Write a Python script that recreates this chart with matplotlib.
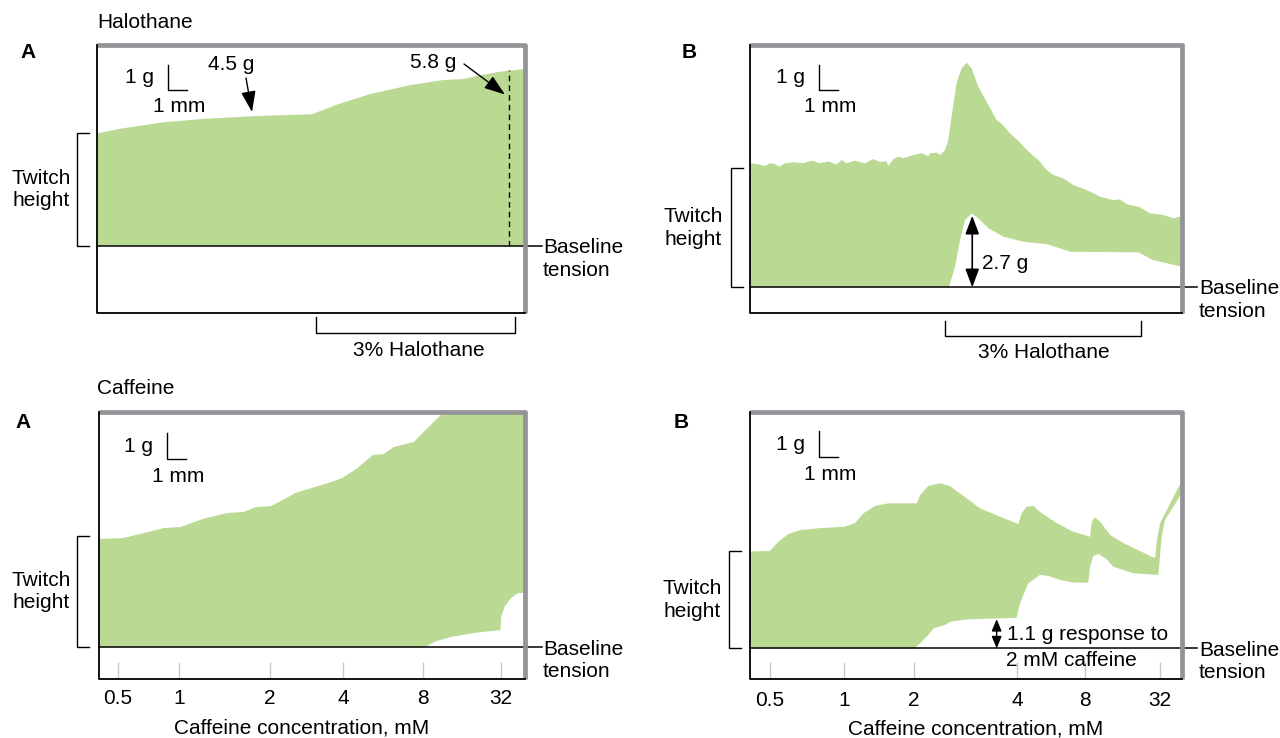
import matplotlib.pyplot as plt
import matplotlib.transforms as mtransforms
from matplotlib.lines import Line2D
from matplotlib.patches import FancyArrowPatch

plt.rcParams['font.family'] = ['Liberation Sans', 'DejaVu Sans']
plt.rcParams['font.size'] = 15

W, H = 1280, 738
GREEN = '#bada94'
GRAY = '#939398'
PX_MM = 18.5   # 1 mm of chart paper
PX_G = 26.5    # 1 g of tension

# ---- Halothane A: twitch top (g above baseline) vs chart distance (mm)
halo_a_x = [0, 1.39, 3.61, 5.83, 8.48, 11.61, 12.91, 14.69, 16.91, 18.69, 19.81, 20.48, 21.8, 23.18, 23.6]
halo_a_top = [4.24, 4.43, 4.66, 4.79, 4.89, 4.96, 5.31, 5.71, 6.06, 6.25, 6.29, 6.40, 6.57, 6.67, 6.7]
halo_a_mark_x = 22.24
halo_a_mark_g = 6.63

# ---- Halothane B (susceptible muscle)
halo_b_top_x = [0, 0.39, 0.84, 1.11, 1.38, 1.61, 1.92, 2.37, 2.91, 3.36, 3.81, 4.26, 4.71, 4.98, 5.25,
                5.70, 6.24, 6.69, 7.05, 7.42, 7.50, 7.77, 8.04, 8.31, 8.85, 9.31, 9.66, 9.76, 10.12,
                10.30, 10.57, 10.75, 10.93, 11.20, 11.47, 11.74, 12.01, 12.37, 12.91, 13.36, 13.60,
                14.08, 14.50, 14.98, 15.70, 16.06, 16.42, 16.96, 17.50, 18.23, 18.95, 19.66, 20.03,
                20.39, 21.11, 21.65, 22.37, 22.91, 23.18, 23.46]
halo_b_top = [4.68, 4.65, 4.58, 4.68, 4.65, 4.55, 4.68, 4.72, 4.68, 4.78, 4.68, 4.75, 4.63, 4.80, 4.68,
              4.78, 4.68, 4.84, 4.73, 4.75, 4.58, 4.83, 4.93, 4.87, 4.99, 5.06, 4.95, 5.06, 5.08,
              4.99, 5.18, 5.56, 6.48, 7.74, 8.26, 8.48, 8.26, 7.57, 6.88, 6.31, 6.20,
              5.81, 5.55, 5.19, 4.74, 4.43, 4.24, 4.11, 3.86, 3.67, 3.42, 3.29, 3.32,
              3.14, 3.02, 2.79, 2.73, 2.60, 2.66, 2.62]
halo_b_bot_x = [0, 10.78, 11.11, 11.38, 11.65, 12.01, 12.37, 12.91, 13.72, 14.80, 16.06, 17.37,
                21.03, 21.80, 23.35, 23.8]
halo_b_bot = [0, 0, 0.78, 1.78, 2.54, 2.79, 2.60, 2.23, 1.91, 1.72, 1.63, 1.34,
              1.32, 1.03, 0.78, 0.75]
halo_b_contracture = 2.7
halo_b_contracture_x = 12.04

# ---- Caffeine A
caf_a_top_x = [0, 1.32, 2.44, 3.54, 4.43, 5.76, 7.0, 7.86, 8.51, 9.32, 9.97, 10.62, 12.41, 13.19,
               13.97, 14.84, 15.41, 15.97, 17.05, 17.52, 18.51, 19.0, 23.6]
caf_a_top = [4.09, 4.12, 4.31, 4.50, 4.54, 4.87, 5.07, 5.11, 5.29, 5.33, 5.56, 5.82, 6.20, 6.39,
             6.75, 7.26, 7.29, 7.56, 7.75, 8.09, 8.77, 9.2, 9.2]
caf_a_bot_x = [0, 17.63, 18.18, 19.05, 20.40, 21.73, 21.77, 21.95, 22.29, 22.66, 23.6]
caf_a_bot = [0, 0, 0.21, 0.39, 0.55, 0.65, 1.15, 1.53, 1.85, 2.04, 2.07]
caf_a_ticks = [1.05, 4.35, 9.27, 13.22, 17.54, 21.73]

# ---- Caffeine B
caf_b_top_x = [0, 1.11, 1.23, 1.56, 2.10, 2.73, 3.72, 5.16, 5.70, 6.15, 6.78, 7.50, 9.04, 9.22,
               9.66, 10.30, 10.84, 11.74, 12.46, 13.54, 14.53, 14.71, 14.98, 15.34, 15.70, 16.61,
               17.50, 18.41, 18.50, 18.68, 18.95, 19.49, 20.24, 21.11, 21.92, 22.03, 22.19, 23.24, 23.43]
caf_b_top = [3.65, 3.68, 3.77, 4.02, 4.31, 4.46, 4.53, 4.59, 4.72, 5.09, 5.37, 5.47, 5.47, 5.78,
             6.12, 6.23, 6.12, 5.66, 5.28, 4.97, 4.69, 5.09, 5.34, 5.37, 5.15, 4.72,
             4.40, 4.21, 4.78, 4.94, 4.78, 4.28, 3.96, 3.67, 3.40, 4.09, 4.72, 6.15, 6.35]
caf_b_bot_x = [0, 8.95, 9.66, 9.94, 10.57, 10.84, 11.74, 14.44, 14.62, 15.07, 15.70, 16.15, 16.78,
               17.50, 18.31, 18.41, 18.58, 18.85, 19.31, 19.66, 20.75, 22.10, 22.28, 22.46, 23.24, 23.43]
caf_b_bot = [0, 0, 0.50, 0.75, 0.88, 1.00, 1.09, 1.15, 1.70, 2.45, 2.77, 2.73, 2.58,
             2.48, 2.48, 3.08, 3.48, 3.56, 3.36, 3.08, 2.83, 2.77, 4.21, 4.84, 5.72, 5.90]
caf_b_response = 1.1
caf_b_response_x = 13.36
caf_b_ticks = [1.11, 5.12, 8.87, 14.48, 18.14, 22.18]

conc_labels = ['0.5', '1', '2', '4', '8', '32']

fig = plt.figure(figsize=(W / 100, H / 100), dpi=100)
PX = mtransforms.Affine2D().scale(1 / W, -1 / H).translate(0, 1) + fig.transFigure


def txt(x, y, s, **kw):
    kw.setdefault('va', 'center')
    fig.text(x, y, s, transform=PX, **kw)


def line(xs, ys, **kw):
    kw.setdefault('color', 'k')
    kw.setdefault('lw', 1.0)
    fig.add_artist(Line2D(xs, ys, transform=PX, **kw))


def panel(box, base, base_end, top_x, top_y, bot_x, bot_y):
    l, t, r, b = box
    ax = fig.add_axes([l / W, 1 - b / H, (r - l) / W, (b - t) / H])
    ax.set_xlim(0, (r - l) / PX_MM)
    ax.set_ylim(-(b - base) / PX_G, (base - t) / PX_G)
    ax.axis('off')
    ax.fill(list(top_x) + list(bot_x)[::-1], list(top_y) + list(bot_y)[::-1],
            color=GREEN, lw=0, zorder=1)
    ax.plot([0, (base_end - l) / PX_MM], [0, 0], color='k', lw=1.1, clip_on=False, zorder=3)
    ax.plot([0, 1, 1], [1, 1, 0], color=GRAY, lw=3.4, transform=ax.transAxes,
            clip_on=False, zorder=4, solid_capstyle='butt')
    ax.plot([0, 0, 1], [1, 0, 0], color='k', lw=1.3, transform=ax.transAxes,
            clip_on=False, zorder=4)
    return ax


def scale_bar(x, y0, y1, ty):
    line([x, x, x + PX_MM], [y0, y1, y1], lw=1.0)
    txt(x - 14, (y0 + y1) / 2, '1 g', ha='right')
    txt(x + 11, ty, '1 mm', ha='center')


def twitch(x, y0, y1, tx):
    line([x + 12, x, x, x + 12], [y0, y0, y1, y1], lw=1.0)
    txt(tx, (y0 + y1) / 2, 'Twitch\nheight', ha='center', linespacing=1.25)


# ---------------- Halothane A
ax1 = panel((97.2, 45.3, 525, 312.7), 245.7, 541.5,
            halo_a_x, halo_a_top, [0, 23.6], [0, 0])
ax1.plot([halo_a_mark_x, halo_a_mark_x], [0, halo_a_mark_g], color='k', lw=1.0,
         ls=(0, (4, 3)), zorder=2)
txt(97, 23, 'Halothane', ha='left')
txt(28, 52, 'A', ha='center', fontweight='bold')
scale_bar(168, 65, 90, 106.7)
twitch(76.7, 133.3, 245.7, 41)
txt(543, 259, 'Baseline\ntension', ha='left', linespacing=1.25)
line([316, 316, 515, 515], [317.3, 332.7, 332.7, 317.3])
txt(418.5, 351, '3% Halothane', ha='center')
txt(231, 65, '4.5 g', ha='center')
txt(433, 63, '5.8 g', ha='center')
for (a, b) in [((246, 78), (252, 112)), ((464, 64), (505, 94.5))]:
    fig.add_artist(FancyArrowPatch(a, b, transform=PX, arrowstyle='-|>,head_length=0.8,head_width=0.28',
                                   mutation_scale=16, color='k', lw=1.0, shrinkA=0, shrinkB=0))

# ---------------- Halothane B
ax2 = panel((749.5, 45.3, 1181.5, 312.7), 287.3, 1197,
            halo_b_top_x, halo_b_top, halo_b_bot_x, halo_b_bot)
ax2.annotate('', xy=(halo_b_contracture_x, halo_b_contracture), xytext=(halo_b_contracture_x, 0),
             arrowprops=dict(arrowstyle='<|-|>,head_length=0.8,head_width=0.3', color='k', lw=1.2,
                             mutation_scale=14, shrinkA=0, shrinkB=0), zorder=5)
ax2.text(halo_b_contracture_x + 0.55, 0.9, '%.1f g' % halo_b_contracture, va='center')
txt(689, 52, 'B', ha='center', fontweight='bold')
scale_bar(819.3, 65, 90, 106.7)
twitch(731, 168.3, 287.3, 693)
txt(1199, 300, 'Baseline\ntension', ha='left', linespacing=1.25)
line([944.8, 944.8, 1141, 1141], [320.7, 335.7, 335.7, 320.7])
txt(1044, 352, '3% Halothane', ha='center')

# ---------------- Caffeine A
ax3 = panel((98.5, 412.5, 525, 679.3), 647.3, 541.5,
            caf_a_top_x, caf_a_top, caf_a_bot_x, caf_a_bot)
g3 = lambda py: (647.3 - py) / PX_G
ax3.vlines(caf_a_ticks, g3(678), g3(662), color='#c8c8c8', lw=1.0, zorder=2)
for tx, lab in zip(caf_a_ticks, conc_labels):
    ax3.text(tx, g3(698.5), lab, ha='center', va='center', clip_on=False)
txt(97, 389, 'Caffeine', ha='left')
txt(23, 422, 'A', ha='center', fontweight='bold')
scale_bar(167, 432.7, 459.3, 476.7)
twitch(77, 535.7, 647.3, 41)
txt(543, 660.5, 'Baseline\ntension', ha='left', linespacing=1.25)
txt(302, 728, 'Caffeine concentration, mM', ha='center')

# ---------------- Caffeine B
ax4 = panel((749.5, 412.5, 1181.5, 679.3), 648.3, 1197,
            caf_b_top_x, caf_b_top, caf_b_bot_x, caf_b_bot)
g4 = lambda py: (648.3 - py) / PX_G
ax4.vlines(caf_b_ticks, g4(678), g4(662), color='#c8c8c8', lw=1.0, zorder=2)
for tx, lab in zip(caf_b_ticks, conc_labels):
    ax4.text(tx, g4(700), lab, ha='center', va='center', clip_on=False)
ax4.annotate('', xy=(caf_b_response_x, caf_b_response), xytext=(caf_b_response_x, 0),
             arrowprops=dict(arrowstyle='<|-|>,head_length=0.6,head_width=0.25', color='k', lw=1.0,
                             mutation_scale=12, shrinkA=0, shrinkB=0), zorder=5)
txt(1007, 635, '%.1f g response to' % caf_b_response, ha='left')
txt(1006, 661, '2 mM caffeine', ha='left')
txt(681, 422, 'B', ha='center', fontweight='bold')
scale_bar(819.3, 430.7, 457.3, 474)
twitch(729.4, 551, 648.3, 692.5)
txt(1199, 661.5, 'Baseline\ntension', ha='left', linespacing=1.25)
txt(976, 729, 'Caffeine concentration, mM', ha='center')

fig.savefig('out.png', dpi=100)
